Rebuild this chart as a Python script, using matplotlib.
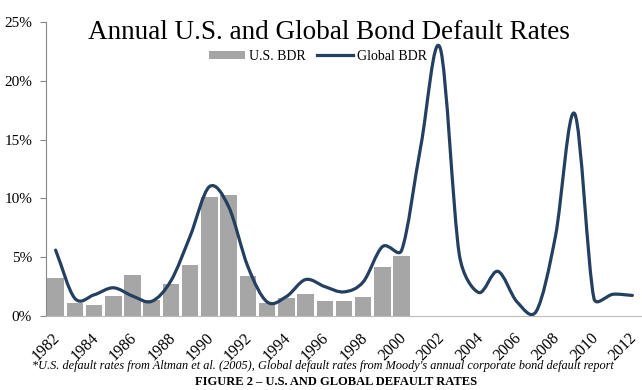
import numpy as np
import matplotlib.pyplot as plt
import matplotlib.transforms as mtransforms
from matplotlib.path import Path
from matplotlib.patches import PathPatch
from matplotlib.lines import Line2D
from matplotlib.ticker import PercentFormatter

years = list(range(1982, 2013))
us_years = list(range(1982, 2001))
us_bdr = [3.2, 1.1, 0.9, 1.7, 3.5, 1.35, 2.7, 4.3, 10.1, 10.3,
          3.4, 1.1, 1.5, 1.9, 1.25, 1.25, 1.6, 4.2, 5.1]
global_bdr = [5.6, 1.5, 1.8, 2.4, 1.7, 1.25, 3.0, 6.8, 11.0, 9.3,
              4.2, 1.2, 1.65, 3.1, 2.5, 2.05, 2.9, 5.9, 5.6, 14.5,
              22.8, 5.2, 2.0, 3.8, 1.2, 0.4, 6.8, 17.2, 1.5, 1.85, 1.75]

serif = ['Liberation Serif', 'DejaVu Serif']
plt.rcParams['font.family'] = serif

fig = plt.figure(figsize=(6.42, 3.9), dpi=100)
ax = fig.add_axes([46 / 642, 74 / 390, 596 / 642, 294 / 390])
ax.set_xlim(-0.5, len(years) - 0.5)
ax.set_ylim(0, 25)

x = np.arange(len(years))
bars = ax.bar(x[:len(us_bdr)], us_bdr, width=0.86, color='#a6a6a6', label='U.S. BDR', zorder=2)


def smooth_path(xs, ys):
    # excel-style smoothed line: bezier segments, control arms limited in screen space
    pts = np.column_stack([xs, ys]).astype(float)
    scr = ax.transData.transform(pts)
    n = len(pts)
    verts = [pts[0]]
    codes = [Path.MOVETO]
    for i in range(n - 1):
        i0, i1, i2, i3 = max(i - 1, 0), i, i + 1, min(i + 2, n - 1)
        d12 = np.hypot(*(scr[i2] - scr[i1]))
        d02 = np.hypot(*(scr[i2] - scr[i0]))
        d13 = np.hypot(*(scr[i3] - scr[i1]))
        f0 = 1 / 3 if i0 == i1 else 1 / 6
        f1 = 1 / 3 if i3 == i2 else 1 / 6
        f0 = min(f0, d12 / 2 / d02)
        f1 = min(f1, d12 / 2 / d13)
        c1 = pts[i1] + f0 * (pts[i2] - pts[i0])
        c2 = pts[i2] - f1 * (pts[i3] - pts[i1])
        verts += [c1, c2, pts[i2]]
        codes += [Path.CURVE4] * 3
    return Path(verts, codes)


line_color = '#243f60'
ax.add_patch(PathPatch(smooth_path(x, global_bdr), fill=False, edgecolor=line_color,
                       lw=2.3, capstyle='round', joinstyle='round', zorder=3))

ax.set_yticks(range(0, 26, 5))
ax.yaxis.set_major_formatter(PercentFormatter(decimals=0))
ax.set_xticks(x[::2])
ax.set_xticklabels([])
ax.tick_params(axis='x', length=0)
ax.tick_params(axis='y', length=4, color='#888888', labelsize=11, pad=6)

# rotated year labels, placed by hand below the axis
lbl_trans = ax.get_xaxis_transform() + mtransforms.ScaledTranslation(2 / 100, -20 / 100, fig.dpi_scale_trans)
for xi, yr in zip(x[::2], years[::2]):
    ax.text(xi, 0, str(yr), transform=lbl_trans, rotation=45, rotation_mode='anchor',
            ha='right', va='center', fontsize=11.5)

for s in ['top', 'right']:
    ax.spines[s].set_visible(False)
ax.spines['left'].set_color('#888888')
ax.spines['bottom'].set_color('#bbbbbb')

fig.text(329 / 642, 1 - 39 / 390, 'Annual U.S. and Global Bond Default Rates',
         ha='center', va='baseline', fontsize=19.5)

handles = [bars, Line2D([], [], color=line_color, lw=2.3)]
fig.legend(handles, ['U.S. BDR', 'Global BDR'], loc='center', bbox_to_anchor=(318 / 642, 1 - 56 / 390),
           ncol=2, frameon=False, fontsize=10, handlelength=2.6, handleheight=0.5,
           columnspacing=0.8, handletextpad=0.3)

fig.text(323 / 642, 1 - 366 / 390,
         "*U.S. default rates from Altman et al. (2005), Global default rates from Moody's annual corporate bond default report",
         ha='center', va='center', fontsize=8.85, style='italic')
fig.text(336 / 642, 1 - 382 / 390, 'FIGURE 2 \u2013 U.S. AND GLOBAL DEFAULT RATES',
         ha='center', va='center', fontsize=9, weight='bold')

fig.savefig('out.png', dpi=100)
